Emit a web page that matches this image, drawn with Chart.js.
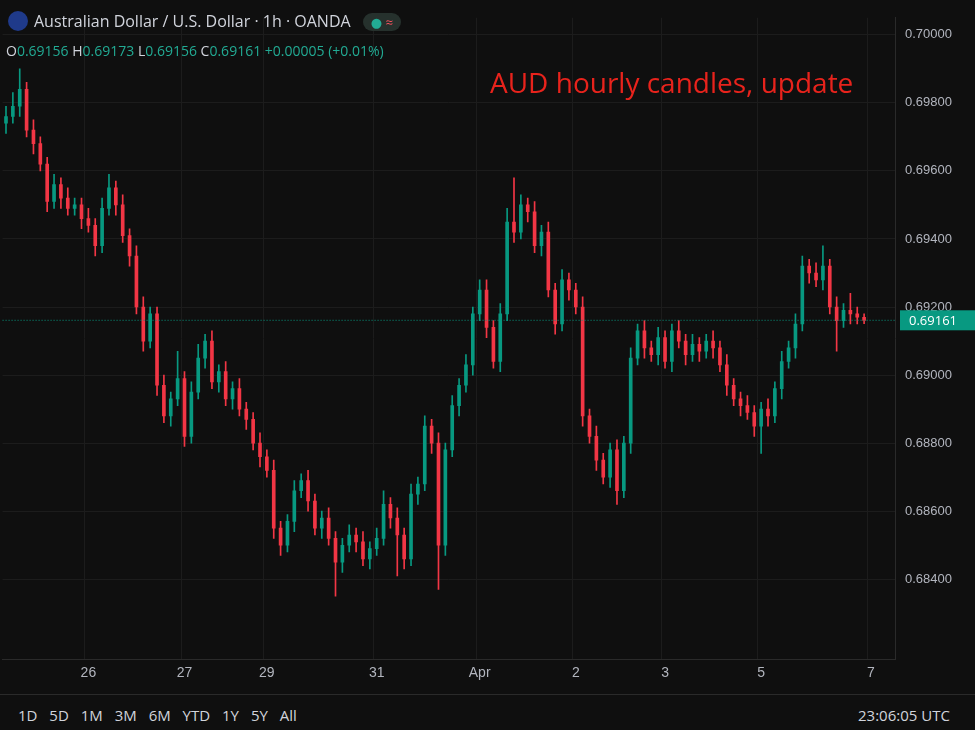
<!DOCTYPE html>
<html>
<head>
<meta charset="utf-8">
<script src="https://cdn.jsdelivr.net/npm/chart.js@4"></script>
<style>
  body { margin:0; background:#0f0f0f; width:975px; height:730px; overflow:hidden; font-family:"Open Sans", "DejaVu Sans", sans-serif; }
  #wrap { position:absolute; left:0; top:0; width:975px; height:692px; }
  #head { position:absolute; left:8px; top:10px; color:#d1d4dc; font-size:16px; }
  #ohlc { position:absolute; left:6px; top:41px; font-size:14px; color:#d1d4dc; }
  #ohlc span { color:#22ab94; }
  #title { position:absolute; left:490px; top:63px; color:#e8231c; font-size:28px; }
  #bottom { position:absolute; left:0; top:694px; width:975px; height:36px; border-top:1px solid #2a2a2a; color:#d1d4dc; font-size:15px; }
  #bottom .r { position:absolute; left:858px; top:10px; }
  #bottom .l { position:absolute; left:18px; top:10px; word-spacing:8px; }
</style>
</head>
<body>
<div id="wrap"><canvas id="chart"></canvas></div>
<div id="head"><span style="display:inline-block;width:20px;height:20px;border-radius:50%;background:#1f3a8a;vertical-align:-4px;margin-right:6px"></span>Australian Dollar / U.S. Dollar · 1h · OANDA
  <span style="display:inline-block;background:#26312d;border-radius:10px;padding:0 8px;margin-left:8px;font-size:13px"><span style="color:#22ab94">●</span> <span style="color:#f7525f">≈</span></span></div>
<div id="ohlc">O<span>0.69156</span> H<span>0.69173</span> L<span>0.69156</span> C<span>0.69161</span> <span>+0.00005 (+0.01%)</span></div>
<div id="title">AUD hourly candles, update</div>
<div id="bottom"><span class="l">1D 5D 1M 3M 6M YTD 1Y 5Y All</span><span class="r">23:06:05 UTC</span></div>
<script>
// closing prices, one per candle
let closes = [
  0.6976,0.6979,0.6984,0.6972,0.6968,0.6962,0.6951,0.6956,0.6952,0.6949,
  0.6950,0.6946,0.6944,0.6938,0.6949,0.6955,0.6950,0.6941,0.6935,0.6920,
  0.6910,0.6918,0.6897,0.6888,0.6893,0.6899,0.6882,0.6895,0.6905,0.6910,
  0.6898,0.6901,0.6893,0.6896,0.6890,0.6887,0.6880,0.6876,0.6872,0.6855,
  0.6850,0.6857,0.6866,0.6869,0.6863,0.6855,0.6858,0.6852,0.6845,0.6850,
  0.6853,0.6851,0.6846,0.6849,0.6852,0.6862,0.6858,0.6853,0.6846,0.6865,
  0.6868,0.6885,0.6880,0.6850,0.6878,0.6891,0.6897,0.6903,0.6918,0.6925,
  0.6914,0.6904,0.6918,0.6945,0.6942,0.6950,0.6948,0.6938,0.6942,0.6925,
  0.6915,0.6928,0.6925,0.6920,0.6888,0.6882,0.6875,0.6870,0.6878,0.6866,
  0.6880,0.6905,0.6913,0.6908,0.6906,0.6911,0.6904,0.6913,0.6910,0.6906,
  0.6909,0.6907,0.6910,0.6908,0.6903,0.6897,0.6893,0.6891,0.6889,0.6885,
  0.6890,0.6888,0.6896,0.6904,0.6908,0.6915,0.6932,0.6930,0.6928,0.6932,
  0.6920,0.6916,0.6919,0.6918,0.6917,0.69161
];
let firstOpen = 0.6974;
// wick lengths above / below the body, in 0.0001 units
let wickUp = [
  3,4,6,2,3,2,2,3,2,3, 2,2,3,2,3,4,2,3,2,3, 3,2,2,3,2,8,2,3,4,2,
  3,2,3,2,3,2,2,3,2,3, 2,2,3,2,3,2,2,3,2,2, 3,2,3,2,3,4,2,3,2,3,
  2,3,2,3,2,3,2,3,2,3, 3,2,3,4,13,3,2,3,2,3, 2,3,2,2,3,2,3,2,2,3,
  2,3,2,3,2,3,2,2,3,2, 3,2,2,3,2,3,2,2,3,2, 2,3,2,3,2,3,3,2,3,6,
  2,3,2,5,2,1
];
let wickDn = [
  3,2,3,2,3,2,3,2,3,2, 2,3,2,3,2,2,3,2,3,2, 3,2,3,2,3,2,3,2,2,3,
  2,3,2,3,2,3,2,3,2,3, 3,2,3,2,3,2,3,2,10,3, 2,3,2,3,2,2,3,12,3,2,
  3,2,3,13,3,2,3,2,3,2, 3,2,3,2,3,2,3,2,3,2, 3,2,3,2,3,2,3,2,3,4,
  2,3,2,3,2,3,2,3,2,3, 2,3,2,3,2,3,2,3,2,3, 8,3,2,3,2,3,2,3,2,3,
  2,9,2,3,2,1
];
let dayLabels = {12:'26', 26:'27', 38:'29', 54:'31', 69:'Apr', 83:'2', 96:'3', 110:'5', 126:'7'};
let slots = 130;
let lastPrice = 0.69161;

let labels = [];
for (let i = 0; i < slots; i++) labels.push(dayLabels[i] || '');

let bodies = [], wicks = [], colors = [];
closes.forEach((c, i) => {
    let o = i === 0 ? firstOpen : closes[i - 1];
    let hi = Math.max(o, c) + wickUp[i] / 10000;
    let lo = Math.min(o, c) - wickDn[i] / 10000;
    let top = Math.max(o, c), bot = Math.min(o, c);
    if (top - bot < 0.00002) top = bot + 0.00002;
    bodies.push([bot, top]);
    wicks.push([lo, hi]);
    colors.push(c >= o ? '#089981' : '#f23645');
});

const priceLine = {
    id: 'priceLine',
    afterDraw(chart) {
        let ctx = chart.ctx, y = chart.scales.y.getPixelForValue(lastPrice), a = chart.chartArea;
        ctx.save();
        ctx.strokeStyle = '#089981';
        ctx.setLineDash([1, 2]);
        ctx.beginPath(); ctx.moveTo(a.left, y); ctx.lineTo(a.right, y); ctx.stroke();
        ctx.fillStyle = '#089981';
        ctx.fillRect(a.right + 5, y - 10, 975 - a.right - 5, 20);
        ctx.fillStyle = '#fff';
        ctx.font = '13px "Open Sans"';
        ctx.textBaseline = 'middle';
        ctx.fillText(lastPrice.toFixed(5), a.right + 14, y + 1);
        ctx.restore();
    }
};

new Chart(document.getElementById('chart'), {
    type: 'bar',
    data: {
        labels: labels,
        datasets: [
            { data: wicks, backgroundColor: colors, barThickness: 1, grouped: false },
            { data: bodies, backgroundColor: colors, barThickness: 3, grouped: false }
        ]
    },
    options: {
        responsive: true, maintainAspectRatio: false, animation: false,
        layout: { padding: { top: 0, left: 0, right: 0, bottom: 4 } },
        plugins: { legend: { display: false }, tooltip: { enabled: false } },
        scales: {
            x: {
                ticks: { autoSkip: false, maxRotation: 0, color: '#b2b5be', font: { size: 14 }, padding: 6 },
                grid: { color: c => (c.tick && c.tick.label) ? '#1c1c1c' : 'transparent', drawTicks: false },
                border: { color: '#2a2a2a' }
            },
            y: {
                position: 'right', min: 0.68165, max: 0.7005,
                ticks: { stepSize: 0.002, color: '#b2b5be', font: { size: 13 }, padding: 10, callback: v => v.toFixed(5) },
                afterBuildTicks: s => {
                    s.ticks = s.ticks.filter(t => Math.abs(t.value * 500 - Math.round(t.value * 500)) < 1e-6);
                },
                grid: { color: '#1c1c1c', drawTicks: false },
                border: { color: '#2a2a2a' },
                afterFit: s => { s.width = 80; }
            }
        }
    },
    plugins: [priceLine]
});
</script>
</body>
</html>
